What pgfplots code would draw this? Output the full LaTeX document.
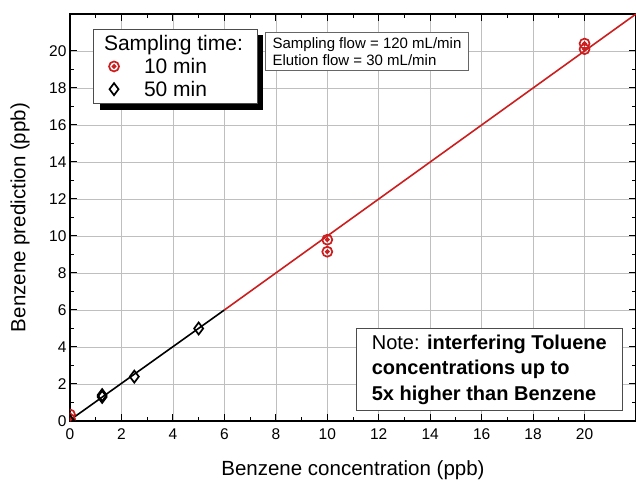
\documentclass[border=0pt]{standalone}
\usepackage{fontspec}
\setmainfont{Liberation Sans}
\usepackage{pgfplots}
\pgfplotsset{compat=1.18}
\usetikzlibrary{shadows}

\definecolor{ored}{RGB}{204,30,30}

% circle with a dot in the middle
\pgfdeclareplotmark{odot}{%
  \pgfpathcircle{\pgfpoint{0pt}{0pt}}{\pgfplotmarksize}\pgfusepathqstroke
  \pgfpathcircle{\pgfpoint{0pt}{0pt}}{0.3\pgfplotmarksize}\pgfusepathqfillstroke}

\begin{document}
\begin{tikzpicture}
\begin{axis}[
    scale only axis,
    width=566pt, height=407pt,
    xmin=0, xmax=22, ymin=0, ymax=22,
    xtick={0,2,...,20}, ytick={0,2,...,20},
    minor tick num=1,
    tick pos=both, tick align=inside,
    major tick length=7pt, minor tick length=4pt,
    every tick/.style={black, line width=1pt},
    axis line style={line width=1.3pt},
    grid=major,
    major grid style={gray!50, line width=0.5pt},
    /pgf/number format/assume math mode=true,
    tick label style={font=\fontsize{15.5}{18}\selectfont},
    xticklabel style={yshift=-4pt},
    label style={font=\fontsize{20.5}{24}\selectfont},
    xlabel={Benzene concentration (ppb)},
    ylabel={Benzene prediction (ppb)},
    xlabel style={at={(axis description cs:0.5,-0.12)}, anchor=center},
    ylabel style={at={(axis description cs:-0.088,0.5)}, anchor=center},
    clip marker paths=true,
    legend cell align=left,
    legend style={
        at={(rel axis cs:0.041,0.963)}, anchor=north west,
        draw=black!70, line width=0.6pt, fill=white,
        font=\fontsize{21}{24}\selectfont,
        row sep=2pt, inner xsep=12pt, inner ysep=4pt,
        drop shadow={shadow xshift=6pt, shadow yshift=-6pt, fill=black, opacity=1},
    },
]
% fitted lines
\addplot[black, line width=1.6pt, forget plot] coordinates {(0,0.05) (6,6.0)};
\addplot[ored, line width=1.6pt, forget plot] coordinates {(6,6.0) (22,22.0)};

\addlegendimage{empty legend}
\addlegendentry{\hspace{-17pt}Sampling time:\hspace{-30pt}}

% 10 min sampling
\addplot[only marks, mark=odot, mark size=5pt, ored, mark options={line width=1.7pt}]
  coordinates {(0,0.35) (0,0.1) (10,9.8) (10,9.15) (20,20.4) (20,20.1)};
\addlegendentry{\hspace{23pt}10 min}

% 50 min sampling
\addplot[only marks, mark=diamond, mark size=6pt, black, mark options={line width=1.7pt}]
  coordinates {(0,0.0) (1.25,1.4) (1.25,1.3) (2.5,2.4) (5,5.0)};
\addlegendentry{\hspace{23pt}50 min}

\node[draw=black!60, line width=0.6pt, fill=white, anchor=north west, align=left,
      inner xsep=7pt, inner ysep=5pt, font=\fontsize{15}{17}\selectfont]
  at (rel axis cs:0.345,0.956)
  {Sampling flow = 120 mL/min\\Elution flow = 30 mL/min};

\node[draw=black!70, line width=0.6pt, fill=white, anchor=south east, align=left,
      inner xsep=16pt, inner ysep=6pt, font=\fontsize{20}{25.5}\selectfont]
  at (rel axis cs:0.977,0.025)
  {Note: \textbf{interfering Toluene}\\\textbf{concentrations up to}\\\textbf{5x higher than Benzene}};
\end{axis}
\pgfresetboundingbox
\path[use as bounding box]
  ([shift={(-70pt,-60pt)}]current axis.south west) rectangle
  ([shift={(0pt,14pt)}]current axis.north east);
\end{tikzpicture}
\end{document}
